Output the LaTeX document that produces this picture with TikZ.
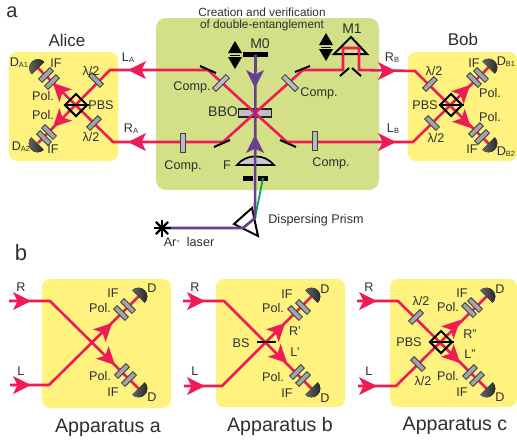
\documentclass[tikz,border=0pt]{standalone}
\usepackage{fontspec}
\setmainfont{Liberation Sans}
\definecolor{yel}{HTML}{FFF27E}
\definecolor{grn}{HTML}{D3E088}
\definecolor{rbeam}{HTML}{EE1B55}
\definecolor{pur}{HTML}{693F90}
\definecolor{gbeam}{HTML}{00A651}
\definecolor{txt}{HTML}{2E2E2E}
\definecolor{platec}{HTML}{A3A4AA}
\newcommand{\fs}[1]{\fontsize{#1}{#1}\selectfont}
\newcommand{\subs}[1]{\raisebox{-1pt}{\fs{7.5}#1}}
\newcommand{\arrowhd}[4][rbeam]{\begin{scope}[shift={(#2,#3)},rotate=#4]
 \fill[#1] (0pt,0pt) -- (-18pt,9pt) -- (-13.5pt,0pt) -- (-18pt,-9pt) -- cycle;\end{scope}}
\newcommand{\detector}[3]{\begin{scope}[shift={(#1,#2)},rotate=#3]
 \fill[left color=black!60,right color=black!85] (-8.8pt,0pt) arc[start angle=180,end angle=0,radius=8.8pt] -- cycle;\end{scope}}
\newcommand{\dblarrow}[2]{\begin{scope}[shift={(#1,#2)}]
 \fill[black] (-7pt,2pt) -- (0pt,14pt) -- (7pt,2pt) -- cycle;
 \fill[black] (-7pt,-2pt) -- (0pt,-14pt) -- (7pt,-2pt) -- cycle;
 \draw[black,line width=.6pt] (-5pt,0pt) -- (5pt,0pt);\end{scope}}
\tikzset{
 box/.style={rounded corners=8pt,draw=none},
 beam/.style={rbeam,line width=2.6pt,line join=round},
 purbeam/.style={pur,line width=2.6pt,line join=round},
 plate/.style={rectangle,draw=black!75,line width=.8pt,fill=platec,minimum width=16pt,minimum height=5pt,inner sep=0pt},
 lplate/.style={plate,minimum width=19pt,fill=platec!75},
 mirror/.style={black,line width=2pt},
 pbsd/.style={diamond,draw=black,line width=2pt,minimum width=23pt,minimum height=23pt,inner sep=0pt},
 lbl/.style={text=txt,inner sep=0pt,font=\fs{12.6}},
 big/.style={text=txt,inner sep=0pt,font=\fs{19.6}},
 head/.style={text=txt,inner sep=0pt,font=\fs{17}},
}
\usetikzlibrary{shapes.geometric}
\begin{document}
\begin{tikzpicture}[x=1pt,y=-1pt]
\useasboundingbox (0,0) rectangle (517,445);
% boxes
\fill[yel,box] (9,52) rectangle (118,161);
\fill[grn,box,rounded corners=10pt] (156,18) rectangle (379,190);
\fill[yel,box] (408,52) rectangle (517,161);
\fill[yel,box] (42,279) rectangle (171,408);
\fill[yel,box] (216,279) rectangle (345,407);
\fill[yel,box] (390,279) rectangle (517,407);
% panel a coordinates
\coordinate (pa) at (76,105);
\coordinate (pb) at (451,105);
\coordinate (ctr) at (255,113);
\coordinate (laL) at (110,70);
\coordinate (raL) at (113,142);
\coordinate (da1) at (38,68);
\coordinate (da2) at (38,143);
\coordinate (ul) at (208,70);
\coordinate (ur) at (303,70);
\coordinate (ll) at (223,142);
\coordinate (lr) at (287,142);
\coordinate (rbR) at (415,71);
\coordinate (lbR) at (413,142);
\coordinate (db1) at (488.5,67.5);
\coordinate (db2) at (488.5,143.5);
% BBO
\node[rectangle,draw=black!85,line width=1.8pt,fill=platec!70,minimum width=33pt,minimum height=8.5pt,inner sep=0pt] (bbo) at (ctr) {};
% red beams
\draw[beam] (da2) -- (laL) -- (ul) -- (ctr) -- (lr) -- (lbR) -- (db1);
\draw[beam] (da1) -- (raL) -- (ll) -- (ctr) -- (ur) -- (343,70) -- (343,48) -- (359,48) -- (359,70) -- (rbR) -- (db2);
% detectors a
\detector{38}{68}{45}
\detector{37.5}{143.5}{135}
\detector{488.5}{67.5}{-45}
\detector{488.5}{143.5}{-135}
% plates a
\node[plate,rotate=-45] (ha1) at (96,80) {};
\node[plate,rotate=45] (ha2) at (94,123) {};
\node[plate,rotate=45] (ifa1) at (46,75) {};
\node[plate,rotate=45] (pla1) at (52,82) {};
\node[plate,rotate=-45] (pla2) at (49,132) {};
\node[plate,rotate=-45] (ifa2) at (44,138) {};
\node[plate,rotate=45] (hb1) at (430,84) {};
\node[plate,rotate=-45] (hb2) at (432,123) {};
\node[plate,rotate=-45] (plb1) at (474,80) {};
\node[plate,rotate=-45] (ifb1) at (481,75) {};
\node[plate,rotate=45] (plb2) at (476,130) {};
\node[plate,rotate=45] (ifb2) at (482,137) {};
\node[lplate,rotate=45] (c1) at (221,83) {};
\node[lplate,rotate=-45] (c2) at (290,83) {};
\node[lplate,rotate=90] (c3) at (183,143) {};
\node[lplate,rotate=90] (c4) at (315,141) {};
% arrows a
\arrowhd{53}{83}{135}
\arrowhd{53}{127}{225}
\arrowhd{470}{85}{45}
\arrowhd{471}{128}{-45}
\arrowhd{128}{70}{180}
\arrowhd{128}{142}{180}
\arrowhd{396}{71}{0}
\arrowhd{396}{142}{0}
% PBS a
\node[pbsd] (pbsa) at (pa) {};
\draw[black,line width=1.5pt] (pbsa.west) -- (pbsa.east);
\node[pbsd] (pbsb) at (pb) {};
\draw[black,line width=1.5pt] (pbsb.west) -- (pbsb.east);
% mirrors
\draw[mirror] (200,66) -- (216,73);
\draw[mirror] (295,72) -- (310,66);
\draw[mirror] (214,147) -- (230,140);
\draw[mirror] (280,140) -- (296,147);
\draw[mirror] (340,76) -- (349,68);
\draw[mirror] (352,68) -- (361,76);
\draw[black,line width=2pt,line join=miter] (351,37) -- (334,54) -- (367,54) -- cycle;
\draw[rbeam,line width=2.2pt] (343,55) -- (343,48) -- (359,48) -- (359,55);
\dblarrow{235}{55}
\dblarrow{326}{47}
% M0
\node[rectangle,fill=black,minimum width=25pt,minimum height=5pt,inner sep=0pt] (m0) at (255.5,54.5) {};
% lens, slit
\draw[black,line width=1.7pt,fill=platec!60] (237,165) .. controls (246,153.5) and (265,153.5) .. (274,165) -- cycle;
\node[rectangle,fill=black,minimum width=10.5pt,minimum height=5pt,inner sep=0pt] (s1) at (248,178) {};
\node[rectangle,fill=black,minimum width=10.5pt,minimum height=5pt,inner sep=0pt] (s2) at (263,178) {};
% prism
\coordinate (pr1) at (252,208);
\coordinate (pr2) at (234,224);
\coordinate (pr3) at (258,236);
\draw[black,line width=2pt,fill=white] (pr1) -- (pr2) -- (pr3) -- cycle;
\coordinate (star) at (162,228);
\coordinate (prin) at (243,228);
\coordinate (prout) at (255,218);
\draw[gbeam,line width=1.8pt] (prin) -- (prout) -- (263,178);
\draw[purbeam] (star) -- (prin) -- (prout) -- (m0.center);
\foreach \a in {0,45,90,135}{\draw[black,line width=2.4pt] (star) ++(\a:8.5pt) -- ++(\a+180:17pt);}
\arrowhd[pur]{255}{88}{-90}
\arrowhd[pur]{255}{135}{90}
% panel b: apparatus a
\coordinate (Ar) at (9,301);
\coordinate (Ark) at (50,301);
\coordinate (Al) at (10,385);
\coordinate (Alk) at (49,385);
\coordinate (Ad1) at (138.5,296.5);
\coordinate (Ad2) at (138.5,388.5);
\draw[beam] (Ar) -- (Ark) -- (Ad2);
\draw[beam] (Al) -- (Alk) -- (Ad1);
\detector{138.5}{296.5}{-45}
\detector{138.5}{388.5}{-135}
\node[plate,rotate=-45] (a1) at (128,306) {};
\node[plate,rotate=-45] (a2) at (121,313) {};
\node[plate,rotate=45] (a3) at (122,371) {};
\node[plate,rotate=45] (a4) at (129,379) {};
\arrowhd{31}{301}{0}
\arrowhd{31}{385}{0}
\arrowhd{112}{323}{45}
\arrowhd{115}{365}{-45}
% apparatus b
\coordinate (Br) at (183,301);
\coordinate (Brk) at (224,301);
\coordinate (Bl) at (184,386);
\coordinate (Blk) at (222,386);
\coordinate (Bd1) at (311.5,296.5);
\coordinate (Bd2) at (311.5,388.5);
\draw[beam] (Br) -- (Brk) -- (Bd2);
\draw[beam] (Bl) -- (Blk) -- (Bd1);
\detector{311.5}{296.5}{-45}
\detector{311.5}{388.5}{-135}
\node[plate,rotate=-45] (b1) at (303,307) {};
\node[plate,rotate=-45] (b2) at (295,313) {};
\node[plate,rotate=45] (b3) at (297,372) {};
\node[plate,rotate=45] (b4) at (303,379) {};
\arrowhd{205}{301}{0}
\arrowhd{205}{386}{0}
\arrowhd{285}{323}{45}
\arrowhd{287}{363}{-45}
\node[rectangle,fill=black,minimum width=19.5pt,minimum height=2.8pt,inner sep=0pt] (bs) at (266.5,342) {};
% apparatus c
\coordinate (Cr) at (357,301);
\coordinate (Crk) at (398,301);
\coordinate (Cl) at (358,386);
\coordinate (Clk) at (396,386);
\coordinate (Cd1) at (486.5,296.5);
\coordinate (Cd2) at (486.5,388.5);
\draw[beam] (Cr) -- (Crk) -- (Cd2);
\draw[beam] (Cl) -- (Clk) -- (Cd1);
\detector{486.5}{296.5}{-45}
\detector{486.5}{388.5}{-135}
\node[plate,rotate=45] (c5) at (416,317) {};
\node[plate,rotate=-45] (c6) at (418,364) {};
\node[plate,rotate=-45] (c7) at (469,310) {};
\node[plate,rotate=-45] (c8) at (475,305) {};
\node[plate,rotate=45] (c9) at (470,372) {};
\node[plate,rotate=45] (c10) at (477,379) {};
\arrowhd{377}{301}{0}
\arrowhd{377}{386}{0}
\arrowhd{460}{320}{45}
\arrowhd{460}{363}{-45}
\node[pbsd] (pbsc) at (441,342) {};
\draw[black,line width=1.5pt] (pbsc.west) -- (pbsc.east);
% texts
\node[text=txt,inner sep=0pt,font=\fs{20}] (ta) at (12,12.5) {a};
\node[text=txt,inner sep=0pt,font=\fs{22}] (tb) at (21,253) {b};
\node[head] (alice) at (67,40) {Alice};
\node[head] (bob) at (463,39) {Bob};
\node[text=txt,inner sep=0pt,font=\fs{11.8},align=center] (t0) at (262,19.5) {Creation and verification\\[0.2pt]of double-entanglement};
\node[lbl] (t1) at (19,63) {D\subs{A1}};
\node[lbl] (t2) at (56,63) {IF};
\node[lbl] (t3) at (91,71) {λ/2};
\node[lbl] (t4) at (128,58) {L\subs{A}};
\node[lbl] (t5) at (43,96) {Pol.};
\node[lbl] (t6) at (101,105) {PBS};
\node[lbl] (t7) at (43,115) {Pol.};
\node[lbl] (t8) at (131,129) {R\subs{A}};
\node[lbl] (t9) at (91,137) {λ/2};
\node[lbl] (t10) at (21,147) {D\subs{A2}};
\node[lbl] (t11) at (53,149) {IF};
\node[lbl] (t12) at (392,58) {R\subs{B}};
\node[lbl] (t13) at (434,71) {λ/2};
\node[lbl] (t14) at (474,63) {IF};
\node[lbl] (t15) at (506,62) {D\subs{B1}};
\node[lbl] (t16) at (490,93) {Pol.};
\node[lbl] (t17) at (425,105) {PBS};
\node[lbl] (t18) at (490,117) {Pol.};
\node[lbl] (t19) at (393,129) {L\subs{B}};
\node[lbl] (t20) at (436,138) {λ/2};
\node[lbl] (t21) at (472,149) {IF};
\node[lbl] (t22) at (506,152) {D\subs{B2}};
\node[lbl] (t23) at (192,87) {Comp.};
\node[lbl] (t24) at (319,93) {Comp.};
\node[lbl] (t25) at (183,166) {Comp.};
\node[lbl] (t26) at (331,163) {Comp.};
\node[lbl,font=\fs{14}] (t27) at (223,112) {BBO};
\node[lbl] (t28) at (227,165) {F};
\node[lbl,font=\fs{14}] (t29) at (260,44) {M0};
\node[lbl,font=\fs{14}] (t30) at (352,29) {M1};
\node[lbl] (t31) at (316,220) {Dispersing Prism};
\node[lbl] (t32) at (189,242) {Ar\raisebox{3.5pt}{\fs{6}+}\ \ laser};
% apparatus a text
\node[lbl] (u1) at (21,287) {R};
\node[lbl] (u2) at (21,371) {L};
\node[lbl] (u3) at (113,293) {IF};
\node[lbl] (u4) at (152,288) {D};
\node[lbl] (u5) at (100,308) {Pol.};
\node[lbl] (u6) at (100,376) {Pol.};
\node[lbl] (u7) at (113,392) {IF};
\node[lbl] (u8) at (152,397) {D};
\node[big] (u9) at (108,427.5) {Apparatus a};
% apparatus b text
\node[lbl] (v1) at (195,287) {R};
\node[lbl] (v2) at (195,371) {L};
\node[lbl] (v3) at (287,294) {IF};
\node[lbl] (v4) at (325,289) {D};
\node[lbl] (v5) at (273,308) {Pol.};
\node[lbl] (v6) at (295,331) {R'};
\node[lbl] (v7) at (241,343) {BS};
\node[lbl] (v8) at (295,352) {L'};
\node[lbl] (v9) at (273,377) {Pol.};
\node[lbl] (v10) at (287,393) {IF};
\node[lbl] (v11) at (325,398) {D};
\node[big] (v12) at (280,426.5) {Apparatus b};
% apparatus c text
\node[lbl] (w1) at (369,287) {R};
\node[lbl] (w2) at (369,371) {L};
\node[lbl] (w3) at (421,301) {λ/2};
\node[lbl] (w4) at (462,293) {IF};
\node[lbl] (w5) at (500,289) {D};
\node[lbl] (w6) at (448,307) {Pol.};
\node[lbl] (w7) at (470,334) {R''};
\node[lbl] (w8) at (409,342) {PBS};
\node[lbl] (w9) at (470,354) {L''};
\node[lbl] (w10) at (423,381) {λ/2};
\node[lbl] (w11) at (448,376) {Pol.};
\node[lbl] (w12) at (462,392) {IF};
\node[lbl] (w13) at (500,397) {D};
\node[big] (w14) at (455,425.5) {Apparatus c};
\end{tikzpicture}
\end{document}
